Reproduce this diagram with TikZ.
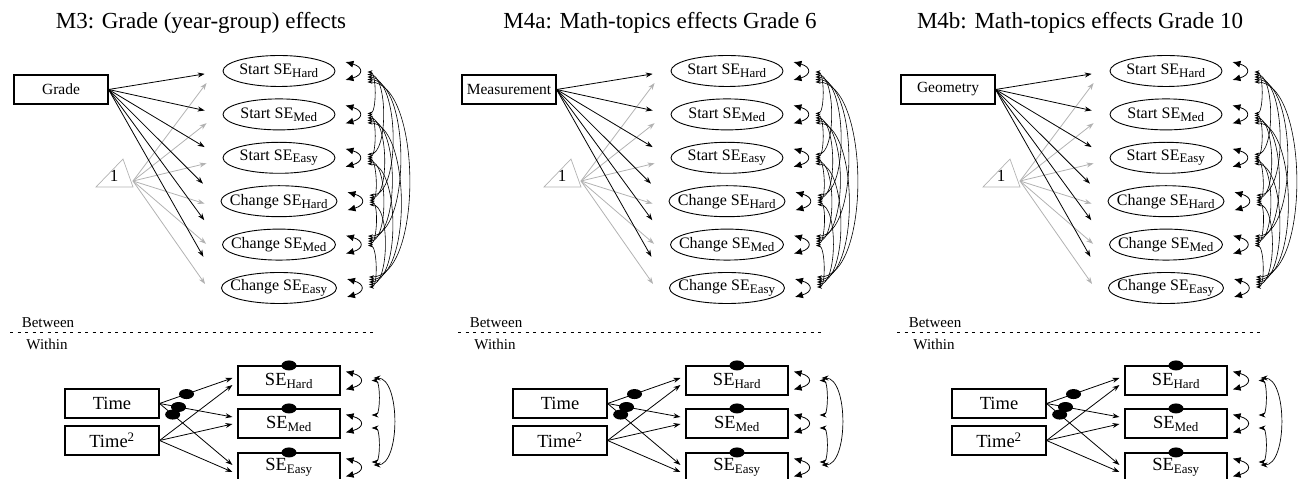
\documentclass[tikz,border=0pt]{standalone}
\usepackage{fontspec}
\setmainfont{Liberation Serif}
\usepackage{tikz}
\usetikzlibrary{arrows.meta}
\usetikzlibrary{shapes.geometric}
\usetikzlibrary{calc}

\newcommand{\lo}[1]{\textsubscript{\fontsize{13}{13}\selectfont #1}}

\tikzset{
  predbox/.style={draw, line width=1.1pt, minimum width=94pt, minimum height=29pt, inner sep=0pt, font=\fontsize{15.5}{17}\selectfont},
  latent/.style={draw, ellipse, line width=0.9pt, minimum width=112pt, minimum height=31pt, inner xsep=-8pt, inner ysep=-3pt, font=\fontsize{16}{17}\selectfont},
  timebox/.style={draw, line width=1.1pt, minimum width=94pt, minimum height=29pt, inner sep=0pt, font=\fontsize{18.5}{20}\selectfont},
  sebox/.style={draw, line width=1.1pt, minimum width=102pt, minimum height=29pt, inner sep=0pt, font=\fontsize{18.5}{20}\selectfont},
  blob/.style={ellipse, fill=black, minimum width=15pt, minimum height=10pt, inner sep=0pt},
  regarrow/.style={line width=0.8pt, -{Stealth[length=7pt,width=5pt]}},
  constarrow/.style={regarrow, gray!60},
  varloop/.style={line width=0.8pt, {Latex[length=8pt,width=7pt]}-{Latex[length=8pt,width=7pt]}},
  covarc/.style={line width=0.6pt, {Stealth[length=5pt,width=3.5pt]}-{Stealth[length=5pt,width=3.5pt]}},
  bigcovarc/.style={line width=0.7pt, {Stealth[length=7pt,width=5pt]}-{Stealth[length=7pt,width=5pt]}},
  leveltext/.style={font=\fontsize{15}{16}\selectfont, inner sep=0pt},
  paneltitle/.style={font=\fontsize{23}{26}\selectfont, anchor=base, inner sep=0pt}
}

\begin{document}
\begin{tikzpicture}[x=1pt,y=1pt]
  \useasboundingbox (0,0) rectangle (1298,479);
  \foreach \dx/\tx/\ttl/\pred in {0/201/{M3: Grade (year-group) effects}/Grade,
      448/212/{M4a: Math-topics effects Grade 6}/Measurement,
      887/193/{M4b: Math-topics effects Grade 10}/Geometry}{
  \begin{scope}[xshift=\dx]
    % title
    \node[paneltitle] (title) at (\tx,450) {\ttl};
    % predictor and constant
    \node[predbox] (pred) at (61,389.5) {\pred};
    \node[font=\fontsize{17}{18}\selectfont, inner sep=0pt] (one) at (114,303) {1};
    \draw[gray!60, line width=0.7pt] (96,292) -- (123,320) -- (133,292) -- cycle;
    \coordinate (oneout) at (133,298);
    % start and change factors
    \foreach \lbl [count=\i] in {Start SE\lo{Hard}, Start SE\lo{Med}, Start SE\lo{Easy},
        Change SE\lo{Hard}, Change SE\lo{Med}, Change SE\lo{Easy}}
      \node[latent] (e\i) at (279,{408-43.4*(\i-1)}) {\lbl};
    % paths and variances
    \foreach \i in {1,...,6}{
      \pgfmathsetmacro\cdy{-12+3.2*(\i-1)}
      \draw[constarrow] (oneout) -- ([xshift=-16pt,yshift=\cdy pt]e\i.west);
      \draw[regarrow] (pred.east) -- ($(pred.east)!0.843!(e\i.west)$);
      \draw[varloop] ([xshift=10pt,yshift=9pt]e\i.east) .. controls +(18,-5) and +(18,5) .. ([xshift=10pt,yshift=-9pt]e\i.east);
    }
    % covariances
    \foreach \i in {1,...,5}{
      \pgfmathtruncatemacro\nx{\i+1}
      \foreach \j in {\nx,...,6}{
        \pgfmathsetmacro\coff{1+2.5*(\j-\i-1)}
        \pgfmathsetmacro\cbend{1.33*(7+8.5*(\j-\i-1))}
        \draw[covarc] ([xshift=32pt,yshift=-\coff pt]e\i.east) .. controls +(\cbend,0) and +(\cbend,0) .. ([xshift=32pt,yshift=\coff pt]e\j.east);
      }
    }
    % between / within
    \node[leveltext] (betweentxt) at (48,156) {Between};
    \node[leveltext] (withintxt) at (47,134.5) {Within};
    \coordinate (lvlL) at (10,146);
    \coordinate (lvlR) at (375,146);
    \draw[line width=1pt, dash pattern=on 3pt off 4.5pt] (lvlL) -- (lvlR);
    % within part
    \node[timebox] (time) at (112,75.5) {Time};
    \node[timebox] (time2) at (112,38.5) {Time\textsuperscript{2}};
    \foreach \lvl/\y in {Hard/98.5, Med/55.5, Easy/11.5}{
      \node[sebox] (se\lvl) at (289,\y) {SE\lo{\lvl}};
      \node[blob] (b\lvl) at (se\lvl.north) {};
      \draw[varloop] ([xshift=5pt,yshift=9pt]se\lvl.east) .. controls +(19,-5) and +(19,5) .. ([xshift=5pt,yshift=-9pt]se\lvl.east);
    }
    \draw[regarrow] (time.east) -- ([xshift=-5pt,yshift=2.5pt]seHard.west) node[blob,pos=0.37] (dt1) {};
    \draw[regarrow] (time.east) -- ([xshift=-5pt,yshift=6.5pt]seMed.west) node[blob,pos=0.26] (dt2) {};
    \draw[regarrow] (time.east) -- ([xshift=-5pt,yshift=2.5pt]seEasy.west) node[blob,pos=0.18] (dt3) {};
    \draw[regarrow] (time2.east) -- ([xshift=-5pt,yshift=-4.5pt]seHard.west);
    \draw[regarrow] (time2.east) -- ([xshift=-5pt,yshift=-0.5pt]seMed.west);
    \draw[regarrow] (time2.east) -- ([xshift=-5pt,yshift=-4.5pt]seEasy.west);
    \draw[bigcovarc] ([xshift=31pt,yshift=0pt]seHard.east) .. controls +(9,0) and +(9,0) .. ([xshift=31pt,yshift=8.5pt]seMed.east);
    \draw[bigcovarc] ([xshift=31pt,yshift=-4.5pt]seMed.east) .. controls +(9,0) and +(9,0) .. ([xshift=31pt,yshift=5.5pt]seEasy.east);
    \draw[bigcovarc] ([xshift=33pt,yshift=2.5pt]seHard.east) .. controls +(27,0) and +(27,0) .. ([xshift=33pt,yshift=2.5pt]seEasy.east);
  \end{scope}
  }
\end{tikzpicture}
\end{document}
